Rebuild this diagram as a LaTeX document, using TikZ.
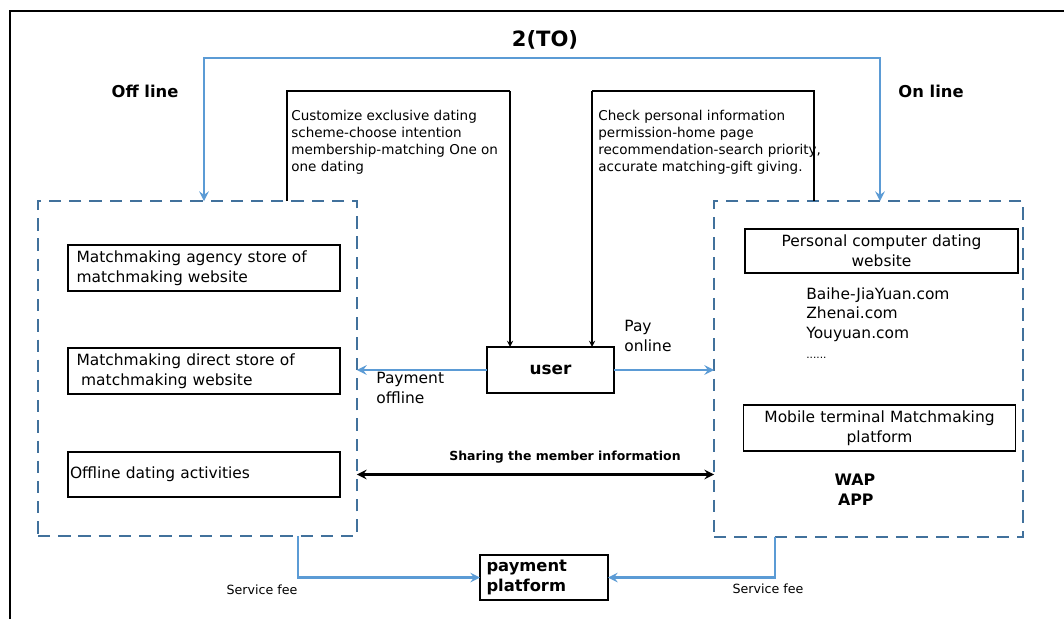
\documentclass[tikz,border=0pt]{standalone}
\usepackage{fontspec}
\setmainfont{DejaVu Sans}
\definecolor{linkblue}{HTML}{5B9BD5}
\definecolor{dashblue}{HTML}{41719C}
\begin{document}
\begin{tikzpicture}[>=stealth, x=0.02cm, y=-0.02cm,
    dashbox/.style={draw=dashblue, line width=1.6pt, dash pattern=on 7pt off 4.5pt, rectangle, inner sep=0pt, outer sep=0pt},
    itembox/.style={draw, line width=0.8pt, rectangle, inner xsep=0.17cm, inner ysep=0pt, outer sep=0pt, font=\fontsize{8.8}{11.4}\selectfont},
    bluelink/.style={draw=linkblue, line width=1.4pt},
    thinlink/.style={draw, line width=0.6pt},
    headtext/.style={font=\bfseries\fontsize{9.3}{11}\selectfont, inner sep=0pt},
    smalltext/.style={font=\fontsize{7.7}{9.7}\selectfont, inner sep=0pt, align=left, anchor=north west},
    plaintext/.style={font=\fontsize{8.8}{11.3}\selectfont, inner sep=0pt, align=left, anchor=north west},
    feetext/.style={font=\fontsize{7.2}{9}\selectfont, inner sep=0pt}]
\useasboundingbox (0,0) rectangle (1064,619);
\draw[line width=1.7pt] (10,619) -- (10,11) -- (1064,11);

\node(offbox)[dashbox, minimum width=6.38cm, minimum height=6.7cm] at (197.5,368.5){};
\node(onbox)[dashbox, minimum width=6.18cm, minimum height=6.72cm] at (868.5,369){};
\node(user)[draw, line width=0.8pt, rectangle, minimum width=2.54cm, minimum height=0.92cm, outer sep=0pt, font=\bfseries\fontsize{9.6}{11}\selectfont] at (550.5,370){user};
\node(pay)[draw, line width=0.8pt, rectangle, minimum width=2.56cm, minimum height=0.9cm, text width=2.3cm, align=left, inner xsep=0.12cm, inner ysep=0pt, outer sep=0pt, font=\bfseries\fontsize{9.3}{11.6}\selectfont] at (544,577.5){payment\\platform};

\node(agency)[itembox, minimum width=5.44cm, minimum height=0.92cm, text width=5.1cm, align=left] at (204,268){Matchmaking agency store of\\matchmaking website};
\node(direct)[itembox, minimum width=5.44cm, minimum height=0.92cm, text width=5.1cm, align=left] at (204,371){Matchmaking direct store of\\\hspace{0.3em}matchmaking website};
\node(actC)[itembox, minimum width=5.44cm, minimum height=0.9cm, text width=5.36cm, inner xsep=0.04cm, align=left] at (204,474.5){Offline dating activities\\[2pt]};
\node(pcsite)[itembox, minimum width=5.46cm, minimum height=0.88cm, text width=5.1cm, align=center] at (881.5,251){Personal computer dating\\website};
\node(mobile)[itembox, minimum width=5.42cm, minimum height=0.92cm, text width=5.1cm, align=center] at (879.5,428){Mobile terminal Matchmaking\\platform};
\node(sites)[plaintext] at (806,287){Baihe-JiaYuan.com\\Zhenai.com\\Youyuan.com\\{\fontsize{6}{6}\selectfont......}};
\node(wap)[headtext, align=center, font=\bfseries\fontsize{9}{11.4}\selectfont] at (855,490){WAP\\\hspace{0.1em}APP};

\node(to)[headtext, font=\bfseries\fontsize{12}{14}\selectfont] at (545,40){2(TO)};
\node(offl)[headtext] at (145,91){Off line};
\node(onl)[headtext] at (931,91){On line};
\node(t1)[smalltext] at (291,110){Customize exclusive dating\\scheme-choose intention\\membership-matching One on\\one dating};
\node(t2)[smalltext] at (598,110){Check personal information\\permission-home page\\recommendation-search priority,\\accurate matching-gift giving.};
\node(payoff)[plaintext] at (376,372){Payment\\offline};
\node(payon)[plaintext] at (624,320){Pay\\online};
\node(share)[headtext, font=\bfseries\fontsize{7.1}{9}\selectfont] at (565,457){Sharing the member information};
\node(feeLt)[feetext] at (262,590){Service fee};
\node(feeRt)[feetext] at (768,589){Service fee};

\coordinate(toL) at (204,58);
\coordinate(toR) at (880,58);
\coordinate(b1L) at (287,91);
\coordinate(b1R) at (510,91);
\coordinate(b2L) at (592,91);
\coordinate(b2R) at (814,91);
\coordinate(feeL) at (298,577);
\coordinate(feeR) at (775,577);

\draw[bluelink, <->](offbox.north -| toL)--(toL)--(toR)--(onbox.north -| toR);
\draw[thinlink](offbox.north -| b1L)--(b1L)--(b1R);
\draw[thinlink, ->](b1R)--(user.north -| b1R);
\draw[thinlink](onbox.north -| b2R)--(b2R)--(b2L);
\draw[thinlink, ->](b2L)--(user.north -| b2L);
\draw[bluelink, ->](user.west)--(user.west -| offbox.east);
\draw[bluelink, ->](user.east)--(user.east -| onbox.west);
\draw[<->, line width=1.4pt](actC -| offbox.east)--(actC -| onbox.west);
\draw[bluelink, ->](offbox.south -| feeL)|-(pay.west);
\draw[bluelink, ->](onbox.south -| feeR)|-(pay.east);
\end{tikzpicture}
\end{document}
